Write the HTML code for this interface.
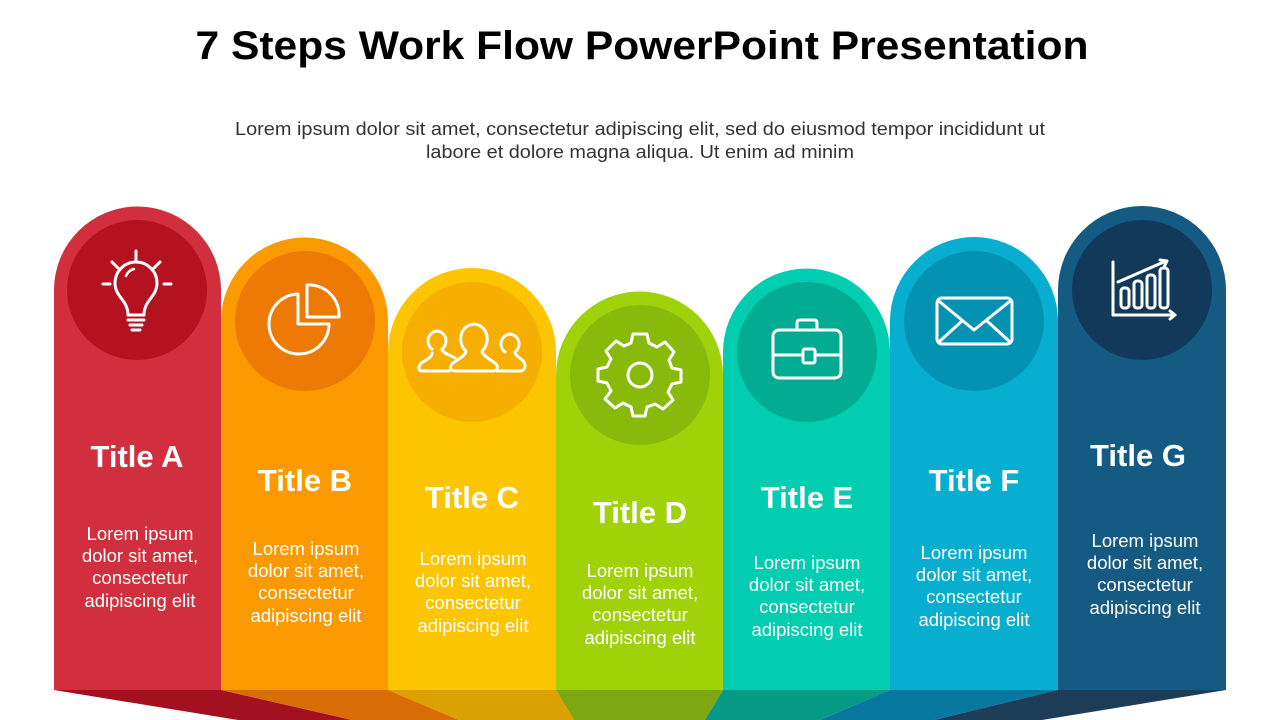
<!DOCTYPE html>
<html><head><meta charset="utf-8"><style>
html,body{margin:0;padding:0;background:#fff;width:1280px;height:720px;overflow:hidden;font-family:"Liberation Sans",sans-serif}
</style></head><body>
<svg width="1280" height="720" viewBox="0 0 1280 720" xmlns="http://www.w3.org/2000/svg" font-family="Liberation Sans, sans-serif">
<text x="642" y="59" text-anchor="middle" font-size="40" font-weight="bold" fill="#000" textLength="893" lengthAdjust="spacingAndGlyphs">7 Steps Work Flow PowerPoint Presentation</text>
<text x="640" y="135" text-anchor="middle" font-size="18" fill="#333" textLength="810" lengthAdjust="spacingAndGlyphs">Lorem ipsum dolor sit amet, consectetur adipiscing elit, sed do eiusmod tempor incididunt ut</text>
<text x="640" y="158" text-anchor="middle" font-size="18" fill="#333" textLength="428" lengthAdjust="spacingAndGlyphs">labore et dolore magna aliqua. Ut enim ad minim</text>

<polygon points="54,690 221,690 352,720 238,720" fill="#a3101f"/>
<polygon points="221,690 388,690 459,720 352,720" fill="#d86d06"/>
<polygon points="388,690 556,690 574,720 459,720" fill="#dca000"/>
<polygon points="556,690 723,690 705,720 574,720" fill="#7ea812"/>
<polygon points="723,690 890,690 820,720 705,720" fill="#069a84"/>
<polygon points="890,690 1058,690 934,720 820,720" fill="#0678a0"/>
<polygon points="1058,690 1226,690 1042,720 934,720" fill="#1d3c55"/>

<path d="M54,690 V290 A83.5,83.5 0 0 1 221,290 V690 Z" fill="#d12e3e"/>
<path d="M221,690 V321 A83.5,83.5 0 0 1 388,321 V690 Z" fill="#fa9a00"/>
<path d="M388,690 V352 A84,84 0 0 1 556,352 V690 Z" fill="#fdc500"/>
<path d="M556,690 V375 A83.5,83.5 0 0 1 723,375 V690 Z" fill="#a0d20a"/>
<path d="M723,690 V352 A83.5,83.5 0 0 1 890,352 V690 Z" fill="#03cdb0"/>
<path d="M890,690 V321 A84,84 0 0 1 1058,321 V690 Z" fill="#07aed0"/>
<path d="M1058,690 V290 A84,84 0 0 1 1226,290 V690 Z" fill="#145a83"/>

<circle cx="137" cy="290" r="70" fill="#b5121f"/>
<circle cx="305" cy="321" r="70" fill="#ec7a05"/>
<circle cx="472" cy="352" r="70" fill="#f6ae00"/>
<circle cx="640" cy="375" r="70" fill="#88ba0b"/>
<circle cx="807" cy="352" r="70" fill="#02ac92"/>
<circle cx="974" cy="321" r="70" fill="#0492b3"/>
<circle cx="1142" cy="290" r="70" fill="#12395a"/>

<g fill="none" stroke="#fff" stroke-width="3" stroke-linecap="round" stroke-linejoin="round">
<path d="M128,315 C128,300 115,297 115,283 A21,21 0 0 1 157,283 C157,297 144,300 144,315 Z"/>
<path d="M128,320 H144 M130,325 H142 M132,330 H140"/>
<path d="M136,251 V262 M112,262 L118,268 M160,262 L154,268 M103,284 H110 M164,284 H171"/>
<path d="M126,276 A12,12 0 0 1 134,269" stroke-width="2.5"/>
<path d="M298,294 A30,30 0 1 0 329,324 H298 Z"/>
<path d="M307,285 A30,30 0 0 1 339,317 H307 Z"/>
<!-- people -->
<path d="M432,349 C426,345 426,333 437,331 C448,333 448,345 442,349 C442,353 450,355 455,358"/>
<path d="M449,371 H423 C417,371 418,365 423,362 C428,359 432,357 432,353"/>
<path d="M466,351 C458,345 458,326 474,324 C490,326 490,345 482,351 C482,356 492,360 496,364 C499,368 497,371 492,371 H456 C451,371 449,368 452,364 C456,360 466,356 466,351 Z"/>
<path d="M505,352 C499,348 499,336 510,334 C521,336 521,348 515,352 C515,356 521,358 524,362 C526,366 525,371 520,371 H497"/>
<circle cx="640" cy="375" r="12"/>
<path d="M633,343 H647 L649,352 L657,356 L665,351 L674,361 L669,369 L672,377 L681,379 V391 L672,393 L668,401 L673,409 L663,418 L655,413 L647,416 L645,425 H633 L631,416 L623,412 L615,417 L605,408 L611,400 L607,392 L598,390 V378 L607,376 L611,368 L606,360 L616,350 L624,355 L631,352 Z" transform="translate(0,-9)"/>
<rect x="773" y="330" width="68" height="48" rx="6"/>
<path d="M774,355 H803 M815,355 H841"/>
<rect x="803" y="349" width="12" height="14" rx="2"/>
<path d="M797,330 V323 Q797,320 800,320 H814 Q817,320 817,323 V330"/>
<rect x="937" y="298" width="75" height="46" rx="5"/>
<path d="M940,302 L974,330 L1009,302 M940,341 L962,321 M1009,341 L987,321"/>
<path d="M1113,262 V315 H1175 M1170,311 L1175,315 L1170,319"/>
<rect x="1121" y="288" width="8" height="20" rx="3"/>
<rect x="1134" y="281" width="8" height="27" rx="3"/>
<rect x="1147" y="275" width="8" height="33" rx="3"/>
<rect x="1160" y="268" width="8" height="40" rx="3"/>
<path d="M1118,282 L1150,268 L1166,261 M1160,260 L1167,261 L1164,267"/>
</g>

<g fill="#fff" text-anchor="middle">
<g font-size="31" font-weight="bold">
<text x="137" y="467">Title A</text>
<text x="305" y="491">Title B</text>
<text x="472" y="508">Title C</text>
<text x="640" y="523">Title D</text>
<text x="807" y="508">Title E</text>
<text x="974" y="491">Title F</text>
<text x="1138" y="466">Title G</text>
</g>
<g font-size="18.5">
<text x="140" y="540">Lorem ipsum</text><text x="140" y="562">dolor sit amet,</text><text x="140" y="584">consectetur</text><text x="140" y="607">adipiscing elit</text>
<text x="306" y="555">Lorem ipsum</text><text x="306" y="577">dolor sit amet,</text><text x="306" y="599">consectetur</text><text x="306" y="622">adipiscing elit</text>
<text x="473" y="565">Lorem ipsum</text><text x="473" y="587">dolor sit amet,</text><text x="473" y="609">consectetur</text><text x="473" y="632">adipiscing elit</text>
<text x="640" y="577">Lorem ipsum</text><text x="640" y="599">dolor sit amet,</text><text x="640" y="621">consectetur</text><text x="640" y="644">adipiscing elit</text>
<text x="807" y="569">Lorem ipsum</text><text x="807" y="591">dolor sit amet,</text><text x="807" y="613">consectetur</text><text x="807" y="636">adipiscing elit</text>
<text x="974" y="559">Lorem ipsum</text><text x="974" y="581">dolor sit amet,</text><text x="974" y="603">consectetur</text><text x="974" y="626">adipiscing elit</text>
<text x="1145" y="547">Lorem ipsum</text><text x="1145" y="569">dolor sit amet,</text><text x="1145" y="591">consectetur</text><text x="1145" y="614">adipiscing elit</text>
</g>
</g>
</svg>
</body></html>
